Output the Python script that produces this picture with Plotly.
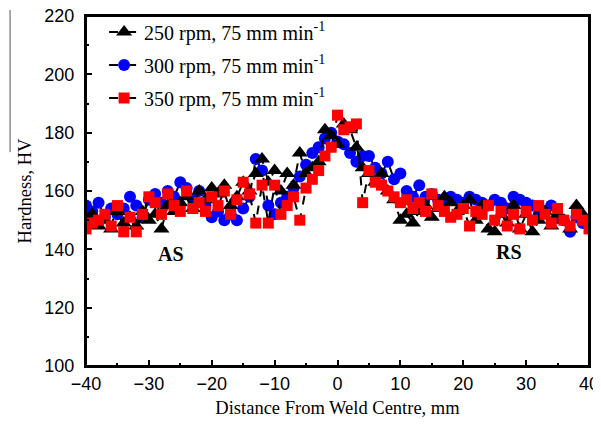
import plotly.graph_objects as go

# hardness profiles across the weld, distance in mm from the weld centre
distance = list(range(-40, 41))

hv_250 = [150, 152, 148, 150, 147, 153, 149, 151, 148, 153,
          150, 152, 147, 155, 153, 156, 158, 154, 160, 157,
          161, 159, 162, 155, 158, 163, 160, 166, 171, 163,
          167, 160, 166, 162, 173, 166, 168, 170, 181, 179,
          176, 183, 181, 175, 168, 166, 163, 166, 160, 157,
          150, 152, 149, 153, 155, 151, 154, 158, 156, 153,
          155, 157, 150, 155, 147, 146, 152, 149, 155, 147,
          152, 146, 150, 153, 148, 152, 150, 147, 155, 152,
          150]

hv_300 = [155, 153, 156, 151, 154, 152, 154, 158, 155, 151,
          157, 159, 156, 160, 158, 163, 161, 157, 160, 155,
          151, 153, 150, 152, 150, 154, 158, 171, 167, 155,
          152, 156, 158, 161, 165, 169, 173, 175, 178, 180,
          177, 176, 173, 170, 172, 172, 168, 166, 170, 164,
          166, 160, 158, 162, 158, 159, 157, 156, 158, 157,
          156, 158, 157, 156, 155, 157, 156, 154, 158, 157,
          156, 155, 152, 153, 155, 151, 150, 146, 151, 149,
          148]

hv_350 = [147, 149, 150, 152, 148, 155, 146, 151, 146, 152,
          158, 156, 152, 159, 155, 153, 160, 154, 156, 153,
          158, 155, 160, 152, 157, 163, 159, 149, 162, 149,
          162, 152, 155, 158, 150, 161, 164, 167, 172, 175,
          186, 181, 182, 183, 156, 167, 163, 162, 160, 158,
          156, 157, 154, 156, 153, 159, 155, 153, 151, 152,
          154, 148, 153, 152, 155, 150, 153, 148, 152, 147,
          153, 150, 155, 152, 149, 154, 150, 148, 152, 150,
          147]

names = ["250 rpm, 75 mm min<sup>-1</sup>",
         "300 rpm, 75 mm min<sup>-1</sup>",
         "350 rpm, 75 mm min<sup>-1</sup>"]

serif = "Liberation Serif, Times New Roman, serif"
sans = "Liberation Sans, Arial, sans-serif"

fig = go.Figure()

# blue drawn first so the triangles and squares sit on top
fig.add_trace(go.Scatter(
    x=distance, y=hv_300, name=names[1], mode="lines+markers",
    line=dict(color="black", width=2, dash="dash"),
    marker=dict(symbol="circle", size=12, color="#0000ff"),
    legendrank=2, legendgroup="b",
))
fig.add_trace(go.Scatter(
    x=distance, y=hv_250, name=names[0], mode="lines+markers",
    line=dict(color="black", width=2, dash="dash"),
    marker=dict(symbol="triangle-up", size=14, color="black"),
    legendrank=1, legendgroup="a",
))
fig.add_trace(go.Scatter(
    x=distance, y=hv_350, name=names[2], mode="lines+markers",
    line=dict(color="black", width=2, dash="dash"),
    marker=dict(symbol="square", size=11, color="#ff0000"),
    legendrank=3, legendgroup="c",
))

fig.add_annotation(x=-26.5, y=138.5, text="<b>AS</b>", showarrow=False,
                   font=dict(family=serif, size=20, color="black"))
fig.add_annotation(x=27.3, y=139, text="<b>RS</b>", showarrow=False,
                   font=dict(family=serif, size=20, color="black"))

# box round the plot area
fig.add_shape(type="rect", xref="paper", yref="paper",
              x0=0, x1=1, y0=0, y1=1,
              line=dict(color="black", width=2))

# thin stray rule left of the y title, as in the scanned figure
fig.add_shape(type="line", xref="paper", yref="paper",
              x0=-0.151, x1=-0.151, y0=0.611, y1=1.017,
              line=dict(color="#555555", width=1))

axis_common = dict(
    showline=True, linecolor="black", linewidth=2, mirror=True,
    ticks="inside", ticklen=6, tickwidth=2, tickcolor="black",
    showgrid=False, zeroline=False, ticklabeloverflow="allow",
    tickfont=dict(family=sans, size=18, color="black"),
)

fig.update_xaxes(
    range=[-40, 40], dtick=10, tick0=0,
    minor=dict(dtick=5, ticks="inside", ticklen=3, tickwidth=2, tickcolor="black"),
    title=dict(text="Distance From Weld Centre, mm",
               font=dict(family=serif, size=18.5, color="black"), standoff=8),
    **axis_common,
)
fig.update_yaxes(
    range=[100, 220], dtick=20, tick0=100, ticklabelstandoff=6,
    minor=dict(dtick=10, ticks="inside", ticklen=3, tickwidth=2, tickcolor="black"),
    title=dict(text="Hardness, HV",
               font=dict(family=serif, size=18.5, color="black"), standoff=8),
    **axis_common,
)

# the page body adds an 8 px margin, so the figure is sized to fit inside it
fig.update_layout(
    width=593, height=418,
    margin=dict(l=78, r=12, t=8, b=60, autoexpand=False),
    plot_bgcolor="white", paper_bgcolor="white",
    legend=dict(x=0.036, y=1.01, xanchor="left", yanchor="top",
                bgcolor="rgba(0,0,0,0)", tracegroupgap=4,
                font=dict(family=serif, size=20, color="black")),
)

fig.write_html("out.html")
